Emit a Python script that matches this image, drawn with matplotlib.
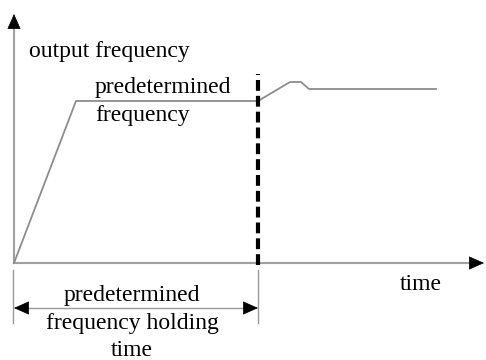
import matplotlib.pyplot as plt

# output frequency curve (time, frequency) in drawing units
t = [0, 62, 244, 276, 287, 295, 422]
f = [0, 162, 162, 181, 181, 174, 174]
hold_time = 244
t_axis_end = 470
f_axis_end = 249

plt.rcParams['font.family'] = ['Liberation Serif', 'DejaVu Serif']

fig = plt.figure(figsize=(4.86, 3.6), dpi=100)
ax = fig.add_axes([0, 0, 1, 1])
ax.set_xlim(-14, 472)
ax.set_ylim(-97, 263)
ax.axis('off')

# axes lines (gray) with black arrow heads
ax.plot([0, t_axis_end - 8], [0, 0], color='#a0a0a0', lw=1.5)
ax.plot([0, 0], [0, f_axis_end - 8], color='#a0a0a0', lw=1.5)
head = dict(arrowstyle='-|>,head_length=0.45,head_width=0.2', color='black',
            lw=0.5, mutation_scale=22, shrinkA=0, shrinkB=0)
ax.annotate('', xy=(t_axis_end, 0), xytext=(t_axis_end - 14, 0), arrowprops=head)
ax.annotate('', xy=(0, f_axis_end), xytext=(0, f_axis_end - 14), arrowprops=head)

ax.plot(t, f, color='#8c8c8c', lw=1.3)

# dashed holding-time marker
ax.plot([hold_time, hold_time], [-2, 189], color='black', lw=3, ls=(0, (2.6, 1.2)))

# dimension lines
ax.plot([-1, -1], [-7, -60], color='#999999', lw=1)
ax.plot([hold_time, hold_time], [-7, -60], color='#999999', lw=1)
ax.plot([8, hold_time - 8], [-45, -45], color='#999999', lw=1)
ax.annotate('', xy=(0, -45), xytext=(14, -45), arrowprops=head)
ax.annotate('', xy=(hold_time, -45), xytext=(hold_time - 14, -45), arrowprops=head)

fs = 17
ax.text(15, 211, 'output frequency', fontsize=fs, va='center', ha='left')
ax.text(81, 176, 'predetermined', fontsize=fs, va='center', ha='left')
ax.text(81, 148, 'frequency', fontsize=fs, va='center', ha='left')
ax.text(407, -21, 'time', fontsize=fs, va='center', ha='center')
ax.text(118, -33, 'predetermined', fontsize=fs, va='center', ha='center')
ax.text(118, -61, 'frequency holding', fontsize=fs, va='center', ha='center')
ax.text(118, -87, 'time', fontsize=fs, va='center', ha='center')

fig.savefig('out.png', dpi=100)
